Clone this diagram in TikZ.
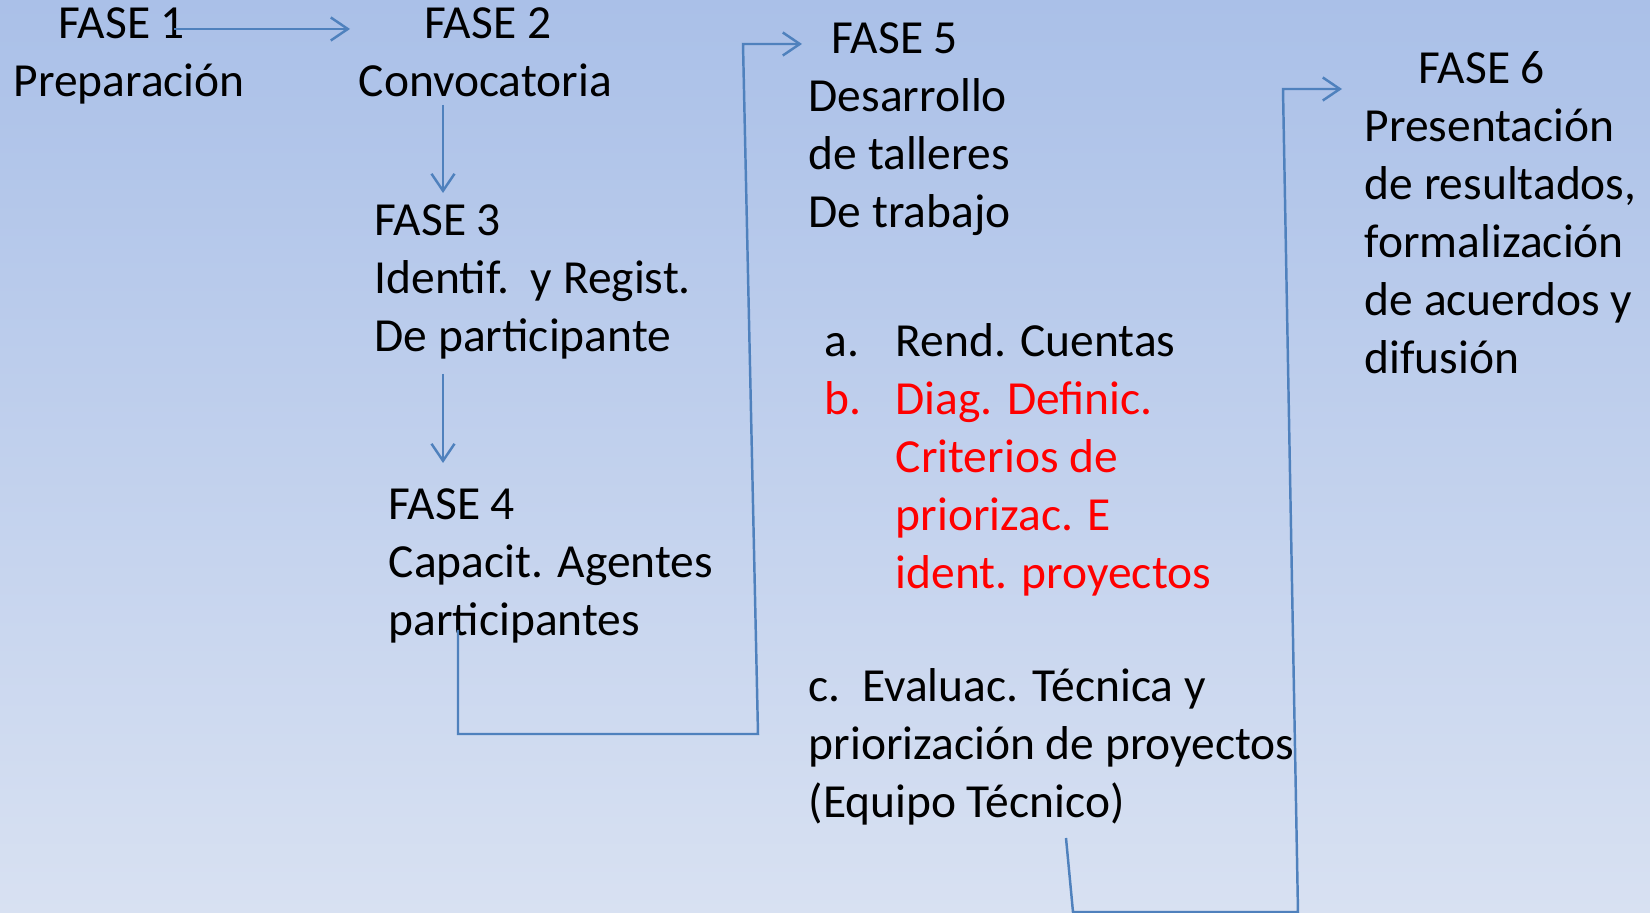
\documentclass[tikz,border=0pt]{standalone}
\usepackage{fontspec}
\setmainfont{Carlito}
\usetikzlibrary{arrows.meta}
\definecolor{fondoarriba}{RGB}{170,192,232}
\definecolor{fondoabajo}{RGB}{216,225,242}
\definecolor{conector}{RGB}{79,129,189}
\begin{document}
\begin{tikzpicture}[x=.01cm,y=-.01cm,
  texto/.style={anchor=north west,inner sep=0pt,align=left,
    font=\fontsize{13.5}{16.5}\selectfont,
    execute at begin node={\rule{0pt}{.75em}}},
  flecha/.style={conector,line width=.7pt,-{Straight Barb[length=1.7mm,width=2.3mm]}},
  linea/.style={conector,line width=.7pt}]
\shade[top color=fondoarriba,bottom color=fondoabajo] (0,0) rectangle (1650,913);
\useasboundingbox (0,0) rectangle (1650,913);
\node[texto] (fase1) at (13,7) {\hspace*{.45cm}FASE 1\\Preparación};
\node[texto] (fase2) at (358,7) {\hspace*{.66cm}FASE 2\\Convocatoria};
\node[texto] (fase3) at (374,204) {FASE 3\\Identif.\ \ y Regist.\\De participante};
\node[texto] (fase4) at (388,488) {FASE 4\\Capacit. Agentes\\participantes};
\node[texto] (fase5) at (808,22) {\hspace*{.23cm}FASE 5\\Desarrollo\\de talleres\\De trabajo};
\node[texto] (lista) at (824,323) {\makebox[.71cm][l]{a.}Rend. Cuentas\\
  \color{red}\makebox[.71cm][l]{b.}Diag. Definic.\\
  \color{red}\hspace*{.71cm}Criterios de\\
  \color{red}\hspace*{.71cm}priorizac. E\\
  \color{red}\hspace*{.71cm}ident. proyectos};
\node[texto] (itemc) at (808,668) {c.\ \ Evaluac. Técnica y\\priorización de proyectos\\(Equipo Técnico)};
\node[texto] (fase6) at (1364,51) {\hspace*{.54cm}FASE 6\\Presentación\\de resultados,\\formalización\\de acuerdos y\\difusión};
\coordinate (s12) at (174,29);
\coordinate (e12) at (350,29);
\coordinate (s23) at (443,105);
\coordinate (e23) at (443,193);
\coordinate (s34) at (443,374);
\coordinate (e34) at (443,463);
\coordinate (s45) at (458,630);
\coordinate (b45) at (458,734);
\coordinate (c45) at (758,734);
\coordinate (d45) at (743,44);
\coordinate (e45) at (802,44);
\coordinate (s56) at (1066,838);
\coordinate (b56) at (1073,912);
\coordinate (c56) at (1298,912);
\coordinate (d56) at (1283,89);
\coordinate (e56) at (1342,89);
\draw[flecha] (s12) -- (e12);
\draw[flecha] (s23) -- (e23);
\draw[flecha] (s34) -- (e34);
\draw[flecha] (s45) -- (b45) -- (c45) -- (d45) -- (e45);
\draw[flecha] (s56) -- (b56) -- (c56) -- (d56) -- (e56);
\end{tikzpicture}
\end{document}
